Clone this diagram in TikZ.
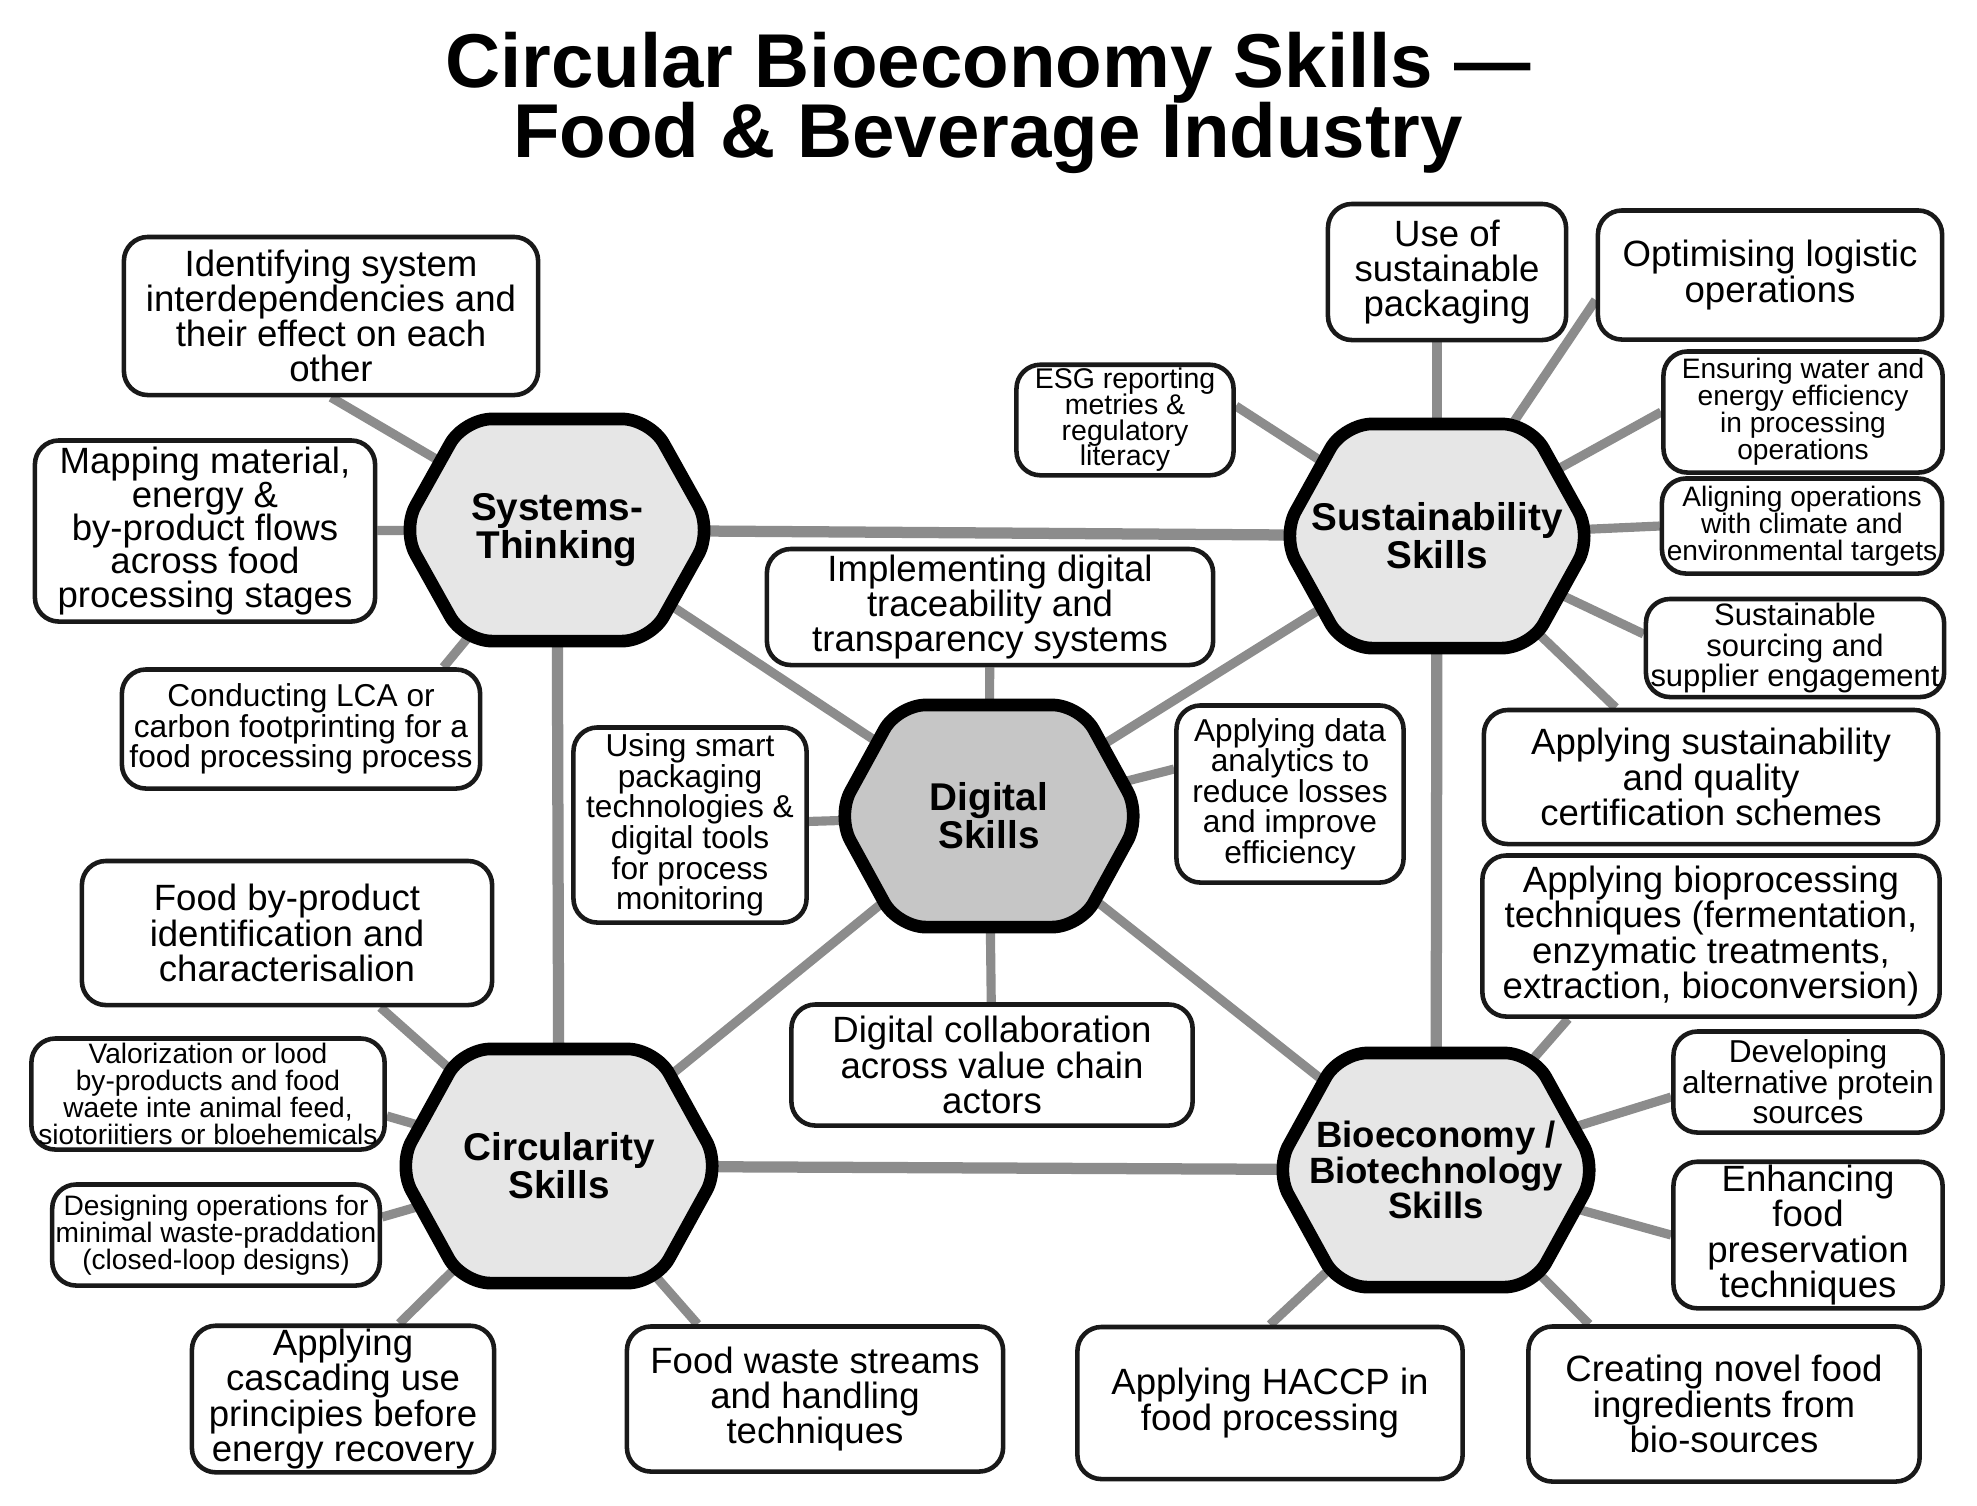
\documentclass[tikz,border=0pt]{standalone}
\usepackage{fontspec}
\setmainfont{Liberation Sans}
\usetikzlibrary{
    calc,          % Coordinate calculations
    backgrounds    % Background layers
}
\pgfdeclarelayer{hexes}
\pgfsetlayers{background,hexes,main}

\definecolor{linkgray}{HTML}{8C8C8C}
\definecolor{hexgray}{HTML}{E6E6E6}
\definecolor{diggray}{HTML}{C6C6C6}

% lines may sit closer than the glyphs allow
\newcommand{\tightlines}{\lineskiplimit-9pt\relax}

\tikzset{
    skill/.style={inner sep=0pt, outer sep=0pt, align=center,
        font=\bfseries\fontsize{11}{10.8}\selectfont\tightlines},
    hexcell/.style={draw=black, line width=3.6pt, rounded corners=0.28cm, line join=round},
    leaf/.style={draw=black!90, line width=1.3pt, rounded corners=0.24cm, fill=white,
        align=center, inner sep=1pt},
    bigtxt/.style={font=\fontsize{10.4}{10}\selectfont\tightlines},
    midtxt/.style={font=\fontsize{9}{8.7}\selectfont\tightlines},
    smalltxt/.style={font=\fontsize{8}{7.7}\selectfont\tightlines},
    link/.style={draw=linkgray, line width=2.6pt},
    spine/.style={draw=linkgray, line width=3.2pt}
}

% hexagon round a skill node
\newcommand{\hexoutline}[2]{%
    \filldraw[hexcell, fill=#2] (#1.west)
        -- ($(#1.north west)!0.2!(#1.north east)$) -- ($(#1.north west)!0.8!(#1.north east)$)
        -- (#1.east)
        -- ($(#1.south west)!0.8!(#1.south east)$) -- ($(#1.south west)!0.2!(#1.south east)$)
        -- cycle;
}

\begin{document}
\begin{tikzpicture}[x=0.01cm, y=-0.01cm]
    \useasboundingbox (0,0) rectangle (1977,1505);

    \node[font=\bfseries\fontsize{21.7}{20}\selectfont\tightlines, align=center] (title) at (988,103)
        {Circular Bioeconomy Skills —\\Food \& Beverage Industry};

    % skill areas
    \node[skill, minimum width=3.10cm, minimum height=2.22cm] (sys) at (557,530) {Systems-\\Thinking};
    \node[skill, minimum width=3.10cm, minimum height=2.24cm] (sus) at (1437,536) {Sustainability\\Skills};
    \node[skill, minimum width=3.04cm, minimum height=2.22cm] (dig) at (989,816) {Digital\\Skills};
    \node[skill, minimum width=3.22cm, minimum height=2.34cm] (circ) at (559,1166) {Circularity\\Skills};
    \node[skill, minimum width=3.22cm, minimum height=2.34cm, font=\bfseries\fontsize{10.4}{10.2}\selectfont\tightlines]
        (bio) at (1436,1170) {Bioeconomy /\\Biotechnology\\Skills};

    % systems thinking
    \node[leaf, bigtxt, minimum width=4.14cm, minimum height=1.58cm] (sys1) at (331,316)
        {Identifying system\\interdependencies and\\their effect on each\\other};
    \node[leaf, font=\fontsize{10.4}{9.5}\selectfont\tightlines, minimum width=3.40cm, minimum height=1.81cm]
        (sys2) at (205,531) {Mapping material,\\energy \&\\by-product flows\\across food\\processing stages};
    \node[leaf, midtxt, minimum width=3.58cm, minimum height=1.19cm] (sys3) at (301,729)
        {Conducting LCA or\\carbon footprinting for a\\food processing process};

    % sustainability
    \node[leaf, bigtxt, minimum width=2.38cm, minimum height=1.36cm] (sus1) at (1447,272)
        {Use of\\sustainable\\packaging};
    \node[leaf, bigtxt, minimum width=3.44cm, minimum height=1.29cm] (sus2) at (1770,275)
        {Optimising logistic\\operations};
    \node[leaf, smalltxt, minimum width=2.79cm, minimum height=1.21cm] (sus3) at (1803,412)
        {Ensuring water and\\energy efficiency\\in processing\\operations};
    \node[leaf, smalltxt, minimum width=2.80cm, minimum height=0.95cm] (sus4) at (1802,526)
        {Aligning operations\\with climate and\\environmental targets};
    \node[leaf, font=\fontsize{8.8}{8.6}\selectfont\tightlines, minimum width=2.98cm, minimum height=0.98cm]
        (sus5) at (1795,648) {Sustainable\\sourcing and\\supplier engagement};
    \node[leaf, font=\fontsize{8.1}{7.3}\selectfont\tightlines, minimum width=2.17cm, minimum height=1.09cm]
        (sus6) at (1125,420) {ESG reporting\\metries \&\\regulatory\\literacy};
    \node[leaf, bigtxt, minimum width=4.54cm, minimum height=1.34cm] (sus7) at (1711,777)
        {Applying sustainability\\and quality\\certification schemes};

    % digital
    \node[leaf, bigtxt, minimum width=4.46cm, minimum height=1.16cm] (dig1) at (990,607)
        {Implementing digital\\traceability and\\transparency systems};
    \node[leaf, midtxt, minimum width=2.33cm, minimum height=1.95cm] (dig2) at (690,825)
        {Using smart\\packaging\\technologies \&\\digital tools\\for process\\monitoring};
    \node[leaf, midtxt, minimum width=2.27cm, minimum height=1.77cm] (dig3) at (1290,794)
        {Applying data\\analytics to\\reduce losses\\and improve\\efficiency};
    \node[leaf, bigtxt, minimum width=4.01cm, minimum height=1.21cm] (dig4) at (992,1065)
        {Digital collaboration\\across value chain\\actors};

    % circularity
    \node[leaf, bigtxt, minimum width=4.10cm, minimum height=1.44cm] (circ1) at (287,933)
        {Food by-product\\identification and\\characterisalion};
    \node[leaf, smalltxt, minimum width=3.53cm, minimum height=1.11cm] (circ2) at (208,1094)
        {Valorization or lood\\by-products and food\\waete inte animal feed,\\siotoriitiers or bloehemicals};
    \node[leaf, smalltxt, minimum width=3.24cm, minimum height=1.01cm] (circ3) at (216,1235)
        {Designing operations for\\minimal waste-praddation\\(closed-loop designs)};
    \node[leaf, bigtxt, minimum width=3.02cm, minimum height=1.45cm] (circ4) at (343,1399)
        {Applying\\cascading use\\principies before\\energy recovery};
    \node[leaf, bigtxt, minimum width=3.76cm, minimum height=1.45cm] (circ5) at (815,1399)
        {Food waste streams\\and handling\\techniques};

    % bioeconomy
    \node[leaf, bigtxt, minimum width=4.57cm, minimum height=1.61cm] (bio1) at (1711,936)
        {Applying bioprocessing\\techniques (fermentation,\\enzymatic treatments,\\extraction, bioconversion)};
    \node[leaf, midtxt, minimum width=2.69cm, minimum height=1.01cm] (bio2) at (1808,1082)
        {Developing\\alternative protein\\sources};
    \node[leaf, bigtxt, minimum width=2.69cm, minimum height=1.45cm] (bio3) at (1808,1235)
        {Enhancing\\food\\preservation\\techniques};
    \node[leaf, bigtxt, minimum width=3.85cm, minimum height=1.52cm] (bio4) at (1270,1403)
        {Applying HACCP in\\food processing};
    \node[leaf, bigtxt, minimum width=3.91cm, minimum height=1.55cm] (bio5) at (1724,1404)
        {Creating novel food\\ingredients from\\bio-sources};

    \begin{pgfonlayer}{hexes}
        \foreach \h/\c in {sys/hexgray, sus/hexgray, dig/diggray, circ/hexgray, bio/hexgray}
            {\hexoutline{\h}{\c}}
    \end{pgfonlayer}

    \begin{pgfonlayer}{background}
        \fill[white] (0,0) rectangle (1977,1505);
        \draw[spine] (sys.center) -- (sus.center);
        \draw[spine] (sys.center) -- (circ.center);
        \draw[spine] (sus.center) -- (bio.center);
        \draw[spine] (circ.center) -- (bio.center);
        \foreach \h in {sys,sus,circ,bio}
            \draw[link] (dig.center) -- (\h.center);

        \draw[link] (sys.center) -- (sys1.south);
        \draw[link] (sys.center) -- (sys2);
        \draw[link] (sys.center) -- ($(sys3.north east)+(-39,0)$);

        \draw[link] (sus.center) -- (sus |- sus1.south);
        \draw[link] (sus.center) -- ($(sus2.west)+(0,25)$);
        \draw[link] (sus.center) -- (sus3.west);
        \draw[link] (sus.center) -- (sus4.west);
        \draw[link] (sus.center) -- ($(sus5.west)+(0,-14)$);
        \draw[link] (sus.center) -- ($(sus6.east)+(0,-14)$);
        \draw[link] (sus.center) -- ($(sus7.north west)+(134,0)$);

        \draw[link] (dig.center) -- (dig1);
        \draw[link] (dig.center) -- (dig2);
        \draw[link] (dig.center) -- ($(dig3.west)+(0,-25)$);
        \draw[link] (dig.center) -- (dig4);

        \draw[link] (circ.center) -- ($(circ1.south east)+(-114,0)$);
        \draw[link] (circ.center) -- ($(circ2.east)+(0,22)$);
        \draw[link] (circ.center) -- ($(circ3.east)+(0,-18)$);
        \draw[link] (circ.center) -- ($(circ4.north east)+(-97,0)$);
        \draw[link] (circ.center) -- ($(circ5.north west)+(73,0)$);

        \draw[link] (bio.center) -- ($(bio1.south west)+(88,0)$);
        \draw[link] (bio.center) -- ($(bio2.west)+(0,15)$);
        \draw[link] (bio.center) -- (bio3.west);
        \draw[link] (bio.center) -- (bio4.north);
        \draw[link] (bio.center) -- ($(bio5.north west)+(63,0)$);
    \end{pgfonlayer}
\end{tikzpicture}
\end{document}
